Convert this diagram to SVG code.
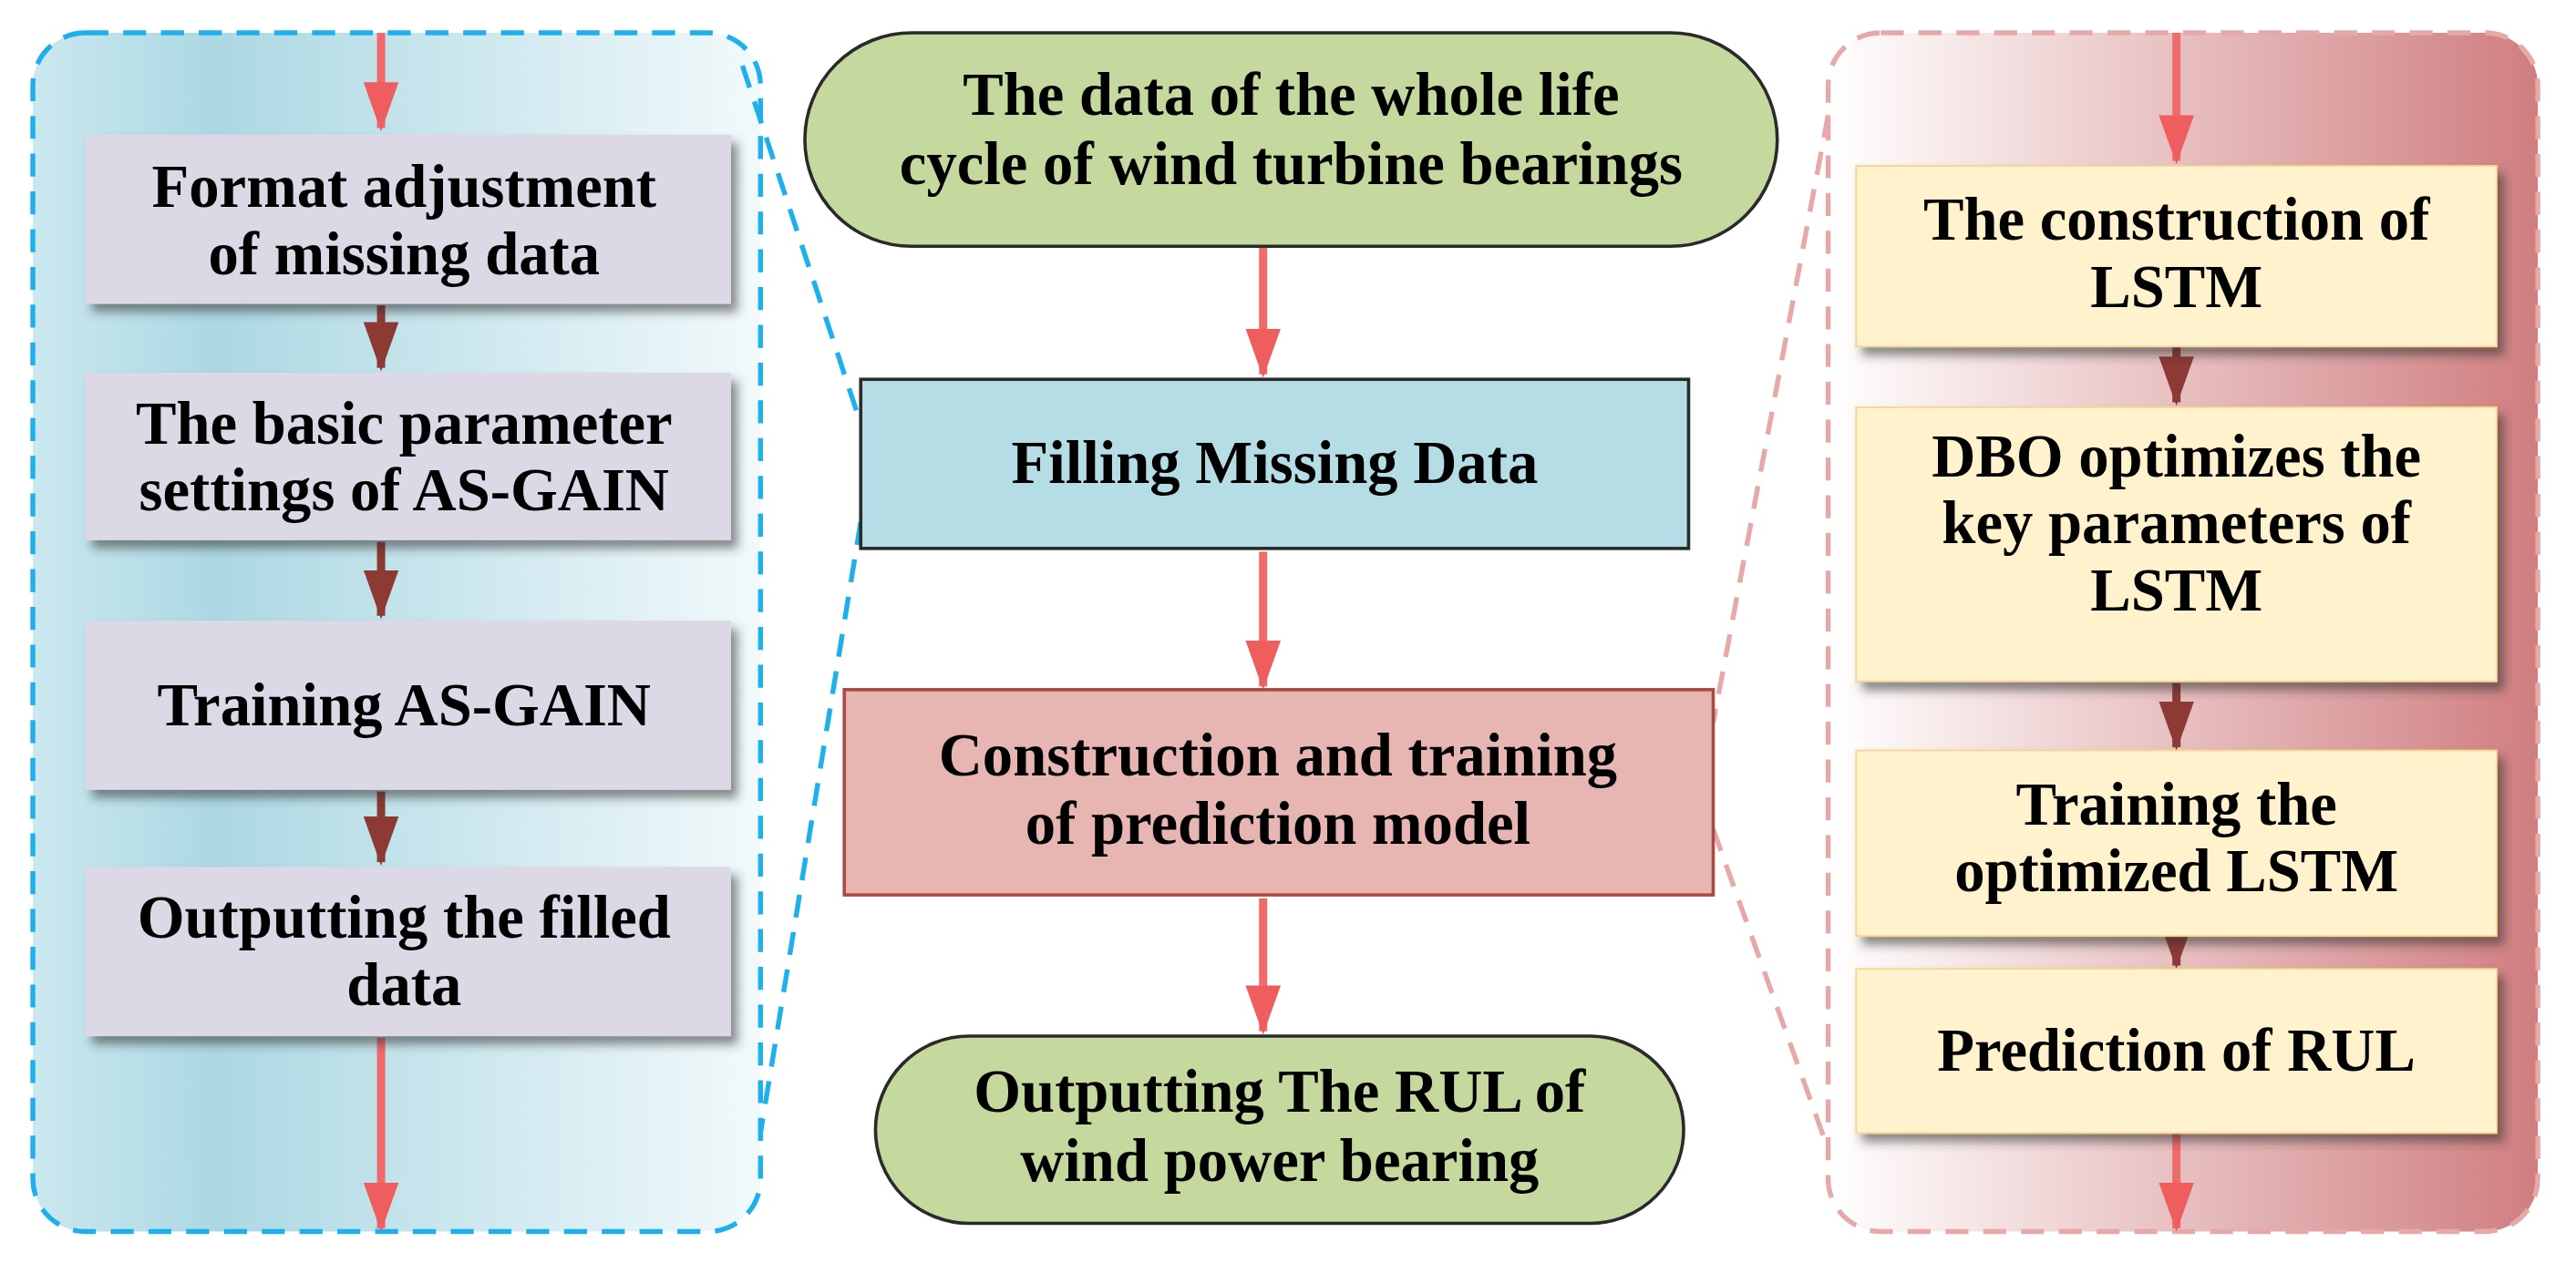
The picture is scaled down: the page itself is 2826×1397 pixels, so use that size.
<svg xmlns="http://www.w3.org/2000/svg" width="2826" height="1397" viewBox="0 0 2826 1397">
<defs>
<linearGradient id="gl" x1="0" y1="0" x2="1" y2="0"><stop offset="0" stop-color="#cbe8ef"/><stop offset="0.25" stop-color="#acd8e3"/><stop offset="1" stop-color="#f2f9fb"/></linearGradient>
<linearGradient id="gr" x1="0" y1="0" x2="1" y2="0"><stop offset="0" stop-color="#ffffff"/><stop offset="1" stop-color="#d07e80"/></linearGradient>
<filter id="sh" x="-10%" y="-10%" width="130%" height="140%"><feDropShadow dx="4" dy="5" stdDeviation="3" flood-color="#333" flood-opacity="0.55"/></filter>
<marker id="mp" viewBox="0 0 14 10" refX="13" refY="5" markerWidth="6" markerHeight="4.4" orient="auto"><path d="M0,0 L14,5 L0,10 Z" fill="#ef5e5e"/></marker>
<marker id="md" viewBox="0 0 14 10" refX="13" refY="5" markerWidth="6" markerHeight="4.4" orient="auto"><path d="M0,0 L14,5 L0,10 Z" fill="#8e3a34"/></marker>
<style>
text{font-family:"Liberation Serif","Times New Roman",serif;font-weight:bold;font-size:37px;fill:#000;text-anchor:middle}
.lb{fill:#ddd8e6;filter:url(#sh)}
.rb{fill:#fff2cc;stroke:#f5d68f;stroke-width:1;filter:url(#sh)}
.ap{stroke:#ef6a6a;stroke-width:5;fill:none;marker-end:url(#mp)}
.ad{stroke:#8e3a34;stroke-width:5;fill:none;marker-end:url(#md)}
.dl{fill:none;stroke:#1eb0ea;stroke-width:3;stroke-dasharray:14 9}
.dr{fill:none;stroke:#e6a9a8;stroke-width:3;stroke-dasharray:14 9}
</style>
</defs>
<rect width="2826" height="1397" fill="#fff"/>
<g transform="scale(1.802)">
<g id="left-panel">
<rect x="20" y="20" width="443" height="730" rx="32" class="dl" style="fill:url(#gl)"/>
</g>
<g id="right-panel">
<rect x="1113" y="20" width="432" height="730" rx="32" class="dr" style="fill:url(#gr)"/>
</g>
<g id="zoom-lines">
<path class="dl" d="M452,40 L524,258"/>
<path class="dl" d="M524,318 L463,690"/>
<path class="dr" d="M1113,70 L1043,440"/>
<path class="dr" d="M1043,505 L1113,700"/>
</g>
<g id="connectors">
<path class="ap" d="M232,20 V78"/>
<path class="ad" d="M232,186 V224"/>
<path class="ad" d="M232,330 V375"/>
<path class="ad" d="M232,482 V525"/>
<path class="ap" d="M232,632 V748"/>
<path class="ap" d="M769,151 V228"/>
<path class="ap" d="M769,336 V418"/>
<path class="ap" d="M769,547 V628"/>
<path class="ap" d="M1325,20 V98"/>
<path class="ad" d="M1325,211 V245"/>
<path class="ad" d="M1325,416 V455"/>
<path class="ad" d="M1325,571 V588"/>
<path class="ap" d="M1325,690 V748"/>
</g>
<g id="n-format"><rect class="lb" x="52" y="82" width="393" height="103"/><text x="246" y="126">Format adjustment</text><text x="246" y="167">of missing data</text></g>
<g id="n-basic"><rect class="lb" x="52" y="227" width="393" height="102"/><text x="246" y="270">The basic parameter</text><text x="246" y="311">settings of AS-GAIN</text></g>
<g id="n-train"><rect class="lb" x="52" y="378" width="393" height="103"/><text x="246" y="442">Training AS-GAIN</text></g>
<g id="n-output"><rect class="lb" x="52" y="528" width="393" height="103"/><text x="246" y="571">Outputting the filled</text><text x="246" y="612">data</text></g>
<g id="n-data"><rect x="490" y="20" width="592" height="130" rx="65" fill="#c5d89d" stroke="#2a2a2a" stroke-width="2"/><text x="786" y="70">The data of the whole life</text><text x="786" y="112">cycle of wind turbine bearings</text></g>
<g id="n-fill"><rect x="524" y="231" width="504" height="103" fill="#b4dde6" stroke="#2a2a2a" stroke-width="2"/><text x="776" y="294">Filling Missing Data</text></g>
<g id="n-constr"><rect x="514" y="420" width="529" height="125" fill="#e7b6b3" stroke="#a94a45" stroke-width="2"/><text x="778" y="472">Construction and training</text><text x="778" y="514">of prediction model</text></g>
<g id="n-rul"><rect x="533" y="631" width="492" height="114" rx="57" fill="#c5d89d" stroke="#2a2a2a" stroke-width="2"/><text x="779" y="677">Outputting The RUL of</text><text x="779" y="719">wind power bearing</text></g>
<g id="n-lstm"><rect class="rb" x="1130" y="101" width="390" height="110"/><text x="1325" y="146">The construction of</text><text x="1325" y="187">LSTM</text></g>
<g id="n-dbo"><rect class="rb" x="1130" y="248" width="390" height="167"/><text x="1325" y="290">DBO optimizes the</text><text x="1325" y="331">key parameters of</text><text x="1325" y="372">LSTM</text></g>
<g id="n-trainl"><rect class="rb" x="1130" y="457" width="390" height="113"/><text x="1325" y="502">Training the</text><text x="1325" y="543">optimized LSTM</text></g>
<g id="n-pred"><rect class="rb" x="1130" y="590" width="390" height="100"/><text x="1325" y="652">Prediction of RUL</text></g>
</g>
</svg>
